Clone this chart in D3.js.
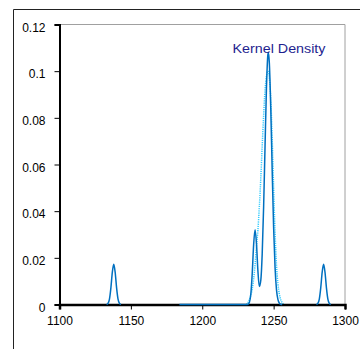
<!DOCTYPE html>
<html>
<head>
<meta charset="utf-8">
<script src="https://cdn.jsdelivr.net/npm/d3@7"></script>
<style>
  html, body { margin: 0; padding: 0; background: #fff; }
  svg { display: block; }
  text { font-family: "Liberation Sans", Arial, sans-serif; }
</style>
</head>
<body>
<svg id="chart" width="360" height="349"></svg>
<script>
// Kernel density estimate (solid) and fitted reference curve (dotted)
const xTicks = [1100, 1150, 1200, 1250, 1300];
const yTicks = [0, 0.02, 0.04, 0.06, 0.08, 0.1, 0.12];
const yTickLabels = ["0", "0.02", "0.04", "0.06", "0.08", "0.1", "0.12"];

// Small peak near 1138
const kdeLowX = [1133, 1134, 1135, 1136, 1137, 1138, 1139, 1140, 1141, 1142, 1143];
const kdeLowY = [0, 0.0005, 0.0023, 0.0071, 0.0138, 0.0172, 0.0138, 0.0071, 0.0023, 0.0005, 0];

// Main cluster around 1237–1246
const kdeMainX = [1184, 1231, 1232, 1233, 1234, 1235, 1236, 1237, 1238, 1239, 1240, 1241, 1242,
                  1243, 1244, 1245, 1246, 1246.3, 1247, 1248, 1249, 1250, 1251, 1252, 1253, 1254, 1255, 1256];
const kdeMainY = [0, 0, 0.0001, 0.0009, 0.0043, 0.0132, 0.0256, 0.032, 0.0259, 0.0143, 0.0077, 0.0103, 0.0217,
                  0.042, 0.0682, 0.0933, 0.1072, 0.108, 0.1035, 0.084, 0.0573, 0.0329, 0.0159, 0.0064, 0.0022, 0.0006, 0.0001, 0];

// Small peak near 1285
const kdeHighX = [1280, 1281, 1282, 1283, 1284, 1285, 1286, 1287, 1288, 1289, 1290];
const kdeHighY = [0, 0.0005, 0.0023, 0.0071, 0.0138, 0.0172, 0.0138, 0.0071, 0.0023, 0.0005, 0];

// Fitted curve (dotted)
const fitX = [1231, 1232, 1233, 1234, 1235, 1236, 1237, 1238, 1239, 1240, 1241, 1242, 1243, 1244,
              1245, 1246, 1247, 1248, 1249, 1250, 1251, 1252, 1253, 1254, 1255, 1256, 1257];
const fitY = [0, 0.0008, 0.002, 0.004, 0.0065, 0.011, 0.017, 0.025, 0.032, 0.042, 0.054, 0.068, 0.081, 0.092,
              0.098, 0.1, 0.097, 0.088, 0.071, 0.05, 0.031, 0.017, 0.009, 0.0045, 0.002, 0.0008, 0];

const seriesLabel = "Kernel Density";

const svg = d3.select("#chart");
const margin = { left: 59.5, top: 24.5, right: 345, bottom: 304.5 };

const x = d3.scaleLinear().domain([1100, 1300]).range([margin.left, margin.right]);
const y = d3.scaleLinear().domain([0, 0.12]).range([margin.bottom, margin.top]);

// Outer frame
svg.append("path")
  .attr("d", "M13.5,349 V9.5 H360")
  .attr("fill", "none")
  .attr("stroke", "#222")
  .attr("stroke-width", 1);

// Plot area border (top and right)
svg.append("path")
  .attr("d", `M${margin.left},${margin.top} H${margin.right} V${margin.bottom}`)
  .attr("fill", "none")
  .attr("stroke", "#a0a0a0")
  .attr("stroke-width", 1);

const zip = (xs, ys) => xs.map((v, i) => [v, ys[i]]);
const line = d3.line().x(d => x(d[0])).y(d => y(d[1])).curve(d3.curveMonotoneX);

// Axes
const yAxis = d3.axisLeft(y).tickValues(yTicks)
  .tickFormat((d, i) => yTickLabels[i]).tickSize(5).tickPadding(9);
const gy = svg.append("g").attr("transform", `translate(${margin.left},0)`).call(yAxis);
gy.select(".domain").attr("stroke", "#000").attr("stroke-width", 2);
gy.selectAll(".tick line").attr("stroke", "#000");
gy.selectAll("text").attr("font-size", 12).attr("fill", "#000").attr("dy", "0.55em")
  .attr("font-family", "'Liberation Sans', Arial, sans-serif");

// Fitted curve drawn first so the density line sits on top
svg.append("path")
  .datum(zip(fitX, fitY))
  .attr("d", line)
  .attr("fill", "none")
  .attr("stroke", "#33ccff")
  .attr("stroke-width", 1.5)
  .attr("stroke-dasharray", "1.2,1");

const xAxis = d3.axisBottom(x).tickValues(xTicks).tickFormat(d3.format("d")).tickSize(5).tickPadding(7);
const gx = svg.append("g").attr("transform", `translate(0,${margin.bottom})`).call(xAxis);
gx.select(".domain").attr("stroke", "#000").attr("stroke-width", 2.5);
gx.selectAll(".tick line").attr("stroke", "#000");
gx.selectAll("text").attr("font-size", 12).attr("fill", "#000")
  .attr("font-family", "'Liberation Sans', Arial, sans-serif");

// Kernel density segments
[[kdeLowX, kdeLowY], [kdeMainX, kdeMainY], [kdeHighX, kdeHighY]].forEach(([xs, ys]) => {
  svg.append("path")
    .datum(zip(xs, ys))
    .attr("d", line)
    .attr("fill", "none")
    .attr("stroke", "#0070c0")
    .attr("stroke-width", 1.5);
});

// Series label
svg.append("text")
  .attr("x", 279)
  .attr("y", 52.5)
  .attr("text-anchor", "middle")
  .attr("font-size", 13)
  .attr("textLength", 93)
  .attr("lengthAdjust", "spacingAndGlyphs")
  .attr("fill", "#1f1f8f")
  .text(seriesLabel);
</script>
</body>
</html>
